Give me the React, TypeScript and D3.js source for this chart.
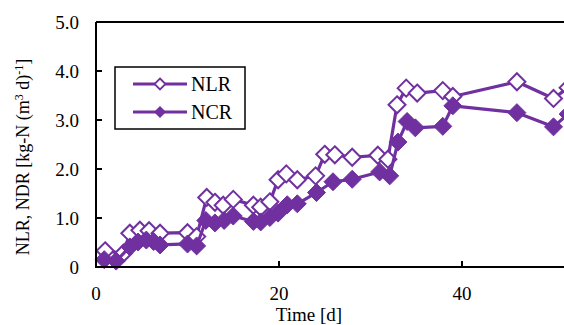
import React from "react";
import * as d3 from "d3";

const nlrDays = [1, 3, 3.7, 4.8, 5.8, 7, 10, 11, 12.1, 13, 13.9, 15, 17.2, 18, 19, 19.9, 20.8, 22, 24, 25, 26.1, 28, 30.8, 31.9, 32.9, 33.9, 35.1, 37.9, 39, 46, 50, 51.6];
const nlrValues = [0.33, 0.28, 0.69, 0.75, 0.74, 0.69, 0.7, 0.62, 1.42, 1.32, 1.26, 1.38, 1.26, 1.22, 1.33, 1.78, 1.9, 1.78, 1.86, 2.3, 2.29, 2.24, 2.28, 2.2, 3.31, 3.65, 3.55, 3.6, 3.48, 3.78, 3.44, 3.66];
const ncrDays = [0.9, 2.2, 3.7, 4.6, 5.5, 6.3, 7, 10, 11, 12, 13, 14, 15, 17.2, 18, 19, 19.9, 20.9, 22, 24.1, 25.9, 28, 31, 32.1, 33, 34, 34.9, 37.9, 39, 46, 50, 51.6];
const ncrValues = [0.15, 0.12, 0.41, 0.51, 0.55, 0.52, 0.45, 0.47, 0.43, 0.95, 0.9, 0.95, 1.04, 0.93, 0.92, 1.01, 1.1, 1.27, 1.29, 1.52, 1.74, 1.79, 1.94, 1.86, 2.55, 2.97, 2.84, 2.87, 3.29, 3.15, 2.86, 3.12];
const yTicks = [0, 1, 2, 3, 4, 5];
const xTicks = [0, 20, 40];
const seriesNames = ["NLR", "NCR"];

const W = 564;
const H = 325;
const PURPLE = "#7030a0";
const FONT = "'Liberation Serif', 'Times New Roman', serif";

export default function App() {
  const x = d3.scaleLinear().domain([0, 20]).range([96, 279]);
  const y = d3.scaleLinear().domain([0, 5]).range([267, 22]);
  const left = x(0);
  const bottom = y(0);
  const top = y(5);

  const line = d3
    .line<[number, number]>()
    .x((d) => x(d[0]))
    .y((d) => y(d[1]));

  const nlr: [number, number][] = nlrDays.map((d, i) => [d, nlrValues[i]]);
  const ncr: [number, number][] = ncrDays.map((d, i) => [d, ncrValues[i]]);

  const diamond = (cx: number, cy: number, r: number) =>
    `M${cx},${cy - r}L${cx + r},${cy}L${cx},${cy + r}L${cx - r},${cy}Z`;

  React.useEffect(() => {
    document.body.style.margin = "0";
  }, []);

  const legX = 115, legY = 67, legW = 130, legH = 62;

  return (
    <svg width={W} height={H} style={{ display: "block", background: "#fff" }} fontFamily={FONT}>
      <rect x={0} y={0} width={W} height={H} fill="#fff" />
      {/* series */}
      <path d={line(nlr) || ""} fill="none" stroke={PURPLE} strokeWidth={3.2} strokeLinejoin="round" />
      {nlr.map((d, i) => (
        <path key={"o" + i} d={diamond(x(d[0]), y(d[1]), 8.5)} fill="#fff" stroke={PURPLE} strokeWidth={2} />
      ))}
      <path d={line(ncr) || ""} fill="none" stroke={PURPLE} strokeWidth={3.2} strokeLinejoin="round" />
      {ncr.map((d, i) => (
        <path key={"f" + i} d={diamond(x(d[0]), y(d[1]), 9)} fill={PURPLE} stroke={PURPLE} strokeWidth={1} />
      ))}
      {/* frame */}
      <line x1={left} x2={W} y1={top} y2={top} stroke="#000" strokeWidth={2} />
      <line x1={left} x2={W} y1={bottom} y2={bottom} stroke="#000" strokeWidth={2} />
      <line x1={left} x2={left} y1={top} y2={bottom + 1} stroke="#000" strokeWidth={2} />
      {yTicks.slice(1, -1).map((t) => (
        <line key={"yt" + t} x1={left} x2={left + 6} y1={y(t)} y2={y(t)} stroke="#000" strokeWidth={2} />
      ))}
      {xTicks.slice(1).map((t) => (
        <line key={"xt" + t} x1={x(t)} x2={x(t)} y1={bottom} y2={bottom - 6} stroke="#000" strokeWidth={2} />
      ))}
      {/* tick labels */}
      {yTicks.map((t) => (
        <text key={"yl" + t} x={79} y={y(t) + 6.5} fontSize={19} textAnchor="end" fill="#000">
          {t === 0 ? "0" : t.toFixed(1)}
        </text>
      ))}
      {xTicks.map((t) => (
        <text key={"xl" + t} x={x(t)} y={300} fontSize={19} textAnchor="middle" fill="#000">
          {t}
        </text>
      ))}
      <text x={309} y={321} fontSize={19} textAnchor="middle" fill="#000">Time [d]</text>
      <text transform={`translate(29,${157}) rotate(-90)`} fontSize={18} textAnchor="middle" fill="#000">
        NLR, NDR [kg-N (m<tspan dy={-6} fontSize={12}>3</tspan><tspan dy={6}> d)</tspan><tspan dy={-6} fontSize={12}>-1</tspan><tspan dy={6}>]</tspan>
      </text>
      {/* legend */}
      <rect x={legX} y={legY} width={legW} height={legH} fill="#fff" stroke="#000" strokeWidth={1.5} />
      {seriesNames.map((n, i) => {
        const cy = legY + 17 + i * 28;
        return (
          <g key={n}>
            <line x1={133} x2={187} y1={cy} y2={cy} stroke={PURPLE} strokeWidth={3.2} />
            {i === 0 ? (
              <path d={diamond(160, cy, 5.5)} fill="#fff" stroke={PURPLE} strokeWidth={1.8} />
            ) : (
              <path d={diamond(160, cy, 6)} fill={PURPLE} />
            )}
            <text x={191} y={cy + 7} fontSize={20} fill="#000">{n}</text>
          </g>
        );
      })}
    </svg>
  );
}
